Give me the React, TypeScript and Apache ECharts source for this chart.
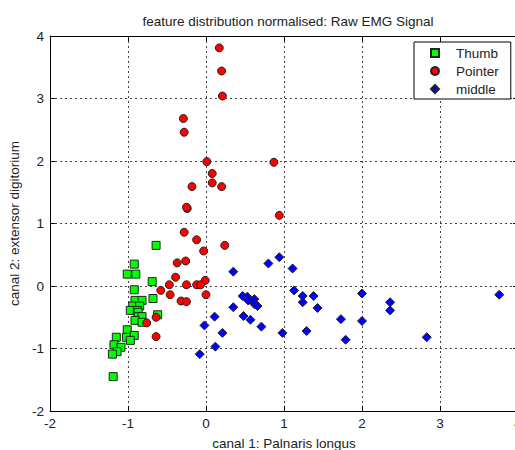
import React, { useEffect, useRef } from "react";
import * as echarts from "echarts";

const titleText = "feature distribution normalised: Raw EMG Signal";
const xAxisName = "canal 1: Palnaris longus";
const yAxisName = "canal 2: extensor digitorium";
const seriesNames = ["Thumb", "Pointer", "middle"];

const thumbPoints: [number, number][] = [
  [-0.64, 0.65], [-0.92, 0.35], [-1.01, 0.19], [-0.9, 0.19], [-0.69, 0.07],
  [-0.92, -0.06], [-0.68, -0.2], [-0.91, -0.23], [-0.82, -0.23], [-0.94, -0.32],
  [-0.85, -0.32], [-0.97, -0.39], [-0.88, -0.39], [-0.62, -0.46], [-0.87, -0.42],
  [-0.87, -0.49], [-0.82, -0.49], [-0.91, -0.55], [-0.82, -0.58], [-1.01, -0.7],
  [-1.02, -0.82], [-0.92, -0.79], [-0.97, -0.87], [-1.15, -0.82], [-1.18, -0.94],
  [-1.09, -0.98], [-1.14, -1.05], [-1.2, -1.09], [-1.19, -1.45],
];

const pointerPoints: [number, number][] = [
  [0.17, 3.81], [0.2, 3.44], [0.21, 3.04], [-0.29, 2.68], [-0.28, 2.46],
  [0.01, 1.99], [0.08, 1.8], [0.08, 1.65], [0.2, 1.59], [-0.18, 1.59],
  [-0.24, 1.24], [-0.25, 1.26], [0.87, 1.98], [0.94, 1.13], [-0.28, 0.86],
  [-0.12, 0.74], [-0.03, 0.56], [0.24, 0.65], [-0.37, 0.37], [-0.26, 0.4],
  [-0.39, 0.14], [-0.01, 0.09], [-0.47, 0.02], [-0.25, 0.02], [-0.12, 0.02],
  [-0.07, 0.02], [-0.58, -0.07], [-0.46, -0.14], [0.0, -0.14], [-0.32, -0.24],
  [-0.25, -0.25], [-0.64, -0.5], [-0.76, -0.59], [-0.64, -0.81],
];

const middlePoints: [number, number][] = [
  [0.35, 0.23], [0.8, 0.36], [0.94, 0.46], [1.11, 0.28], [1.13, -0.07],
  [1.24, -0.16], [1.38, -0.16], [1.24, -0.26], [1.43, -0.35], [1.73, -0.53],
  [1.29, -0.72], [1.79, -0.86], [0.98, -0.75], [0.47, -0.16], [0.53, -0.17],
  [0.54, -0.23], [0.62, -0.21], [0.62, -0.29], [0.66, -0.32], [0.35, -0.34],
  [0.48, -0.48], [0.57, -0.54], [0.11, -0.49], [0.71, -0.65], [0.21, -0.75],
  [-0.02, -0.63], [0.12, -0.97], [-0.08, -1.09], [2.0, -0.12], [2.0, -0.56],
  [2.36, -0.26], [2.36, -0.39], [2.83, -0.82], [3.76, -0.14],
];

const xRange = { min: -2, max: 4, interval: 1 };
const yRange = { min: -2, max: 4, interval: 1 };

const FONT = "'Liberation Sans', Arial, Helvetica, sans-serif";
const TEXT = "#222";

export default function App() {
  const ref = useRef<HTMLDivElement>(null);
  useEffect(() => {
    if (!ref.current) return;
    const chart = echarts.init(ref.current, undefined, { renderer: "svg" });
    const gridLine = { show: true, lineStyle: { color: "#444", type: [2, 3] as any, width: 1 } };
    const axisLine = { show: true, onZero: false, lineStyle: { color: "#000", width: 1 } };
    const tick = { show: true, inside: true, length: 5, lineStyle: { color: "#000" } };
    const marker = (color: string) => ({ color, borderColor: "#222", borderWidth: 1, opacity: 1 });
    chart.setOption({
      animation: false,
      backgroundColor: "#fff",
      textStyle: { fontFamily: FONT },
      title: {
        text: titleText,
        left: 283,
        textAlign: "center",
        top: 9,
        textStyle: { fontSize: 13.5, fontWeight: "normal", color: TEXT, fontFamily: FONT },
      },
      grid: {
        left: 50,
        top: 36,
        width: 468,
        height: 375,
        containLabel: false,
        outerBoundsMode: "none",
      },
      legend: {
        orient: "vertical",
        left: 414,
        top: 42,
        padding: [4, 12, 3, 16],
        itemWidth: 8,
        itemHeight: 8,
        itemGap: 4,
        backgroundColor: "#fff",
        borderColor: "#000",
        borderWidth: 1,
        borderRadius: 0,
        textStyle: { fontSize: 13.5, lineHeight: 14, padding: [0, 0, 0, 12], color: TEXT, fontFamily: FONT },
        data: seriesNames,
      },
      xAxis: [
        {
          type: "value",
          position: "bottom",
          ...xRange,
          name: xAxisName,
          nameLocation: "middle",
          nameGap: 25,
          nameTextStyle: { fontSize: 13.5, color: TEXT, fontFamily: FONT },
          axisLine,
          axisTick: tick,
          axisLabel: { color: TEXT, fontSize: 13.5, margin: 5, fontFamily: FONT, hideOverlap: false },
          splitLine: gridLine,
        },
        {
          type: "value",
          position: "top",
          ...xRange,
          axisLine,
          axisTick: tick,
          axisLabel: { show: false },
          splitLine: { show: false },
        },
      ],
      yAxis: [
        {
          type: "value",
          position: "left",
          ...yRange,
          name: yAxisName,
          nameLocation: "middle",
          nameGap: 20,
          nameRotate: 90,
          nameTextStyle: { fontSize: 13.5, color: TEXT, fontFamily: FONT },
          axisLine,
          axisTick: tick,
          axisLabel: { color: TEXT, fontSize: 13.5, margin: 6, fontFamily: FONT },
          splitLine: gridLine,
        },
        {
          type: "value",
          position: "right",
          ...yRange,
          axisLine,
          axisTick: tick,
          axisLabel: { show: false },
          splitLine: { show: false },
        },
      ],
      series: [
        {
          name: seriesNames[0],
          type: "scatter",
          symbol: "rect",
          symbolSize: 8,
          itemStyle: marker("#00ff00"),
          data: thumbPoints,
          z: 3,
        },
        {
          name: seriesNames[1],
          type: "scatter",
          symbol: "circle",
          symbolSize: 8,
          itemStyle: marker("#ff0000"),
          data: pointerPoints,
          z: 4,
        },
        {
          name: seriesNames[2],
          type: "scatter",
          symbol: "diamond",
          symbolSize: 9,
          itemStyle: marker("#0000ff"),
          data: middlePoints,
          z: 5,
        },
      ],
    });
    return () => chart.dispose();
  }, []);
  return (
    <div
      ref={ref}
      style={{ position: "fixed", left: 0, top: 0, width: 515, height: 450, background: "#fff" }}
    />
  );
}
